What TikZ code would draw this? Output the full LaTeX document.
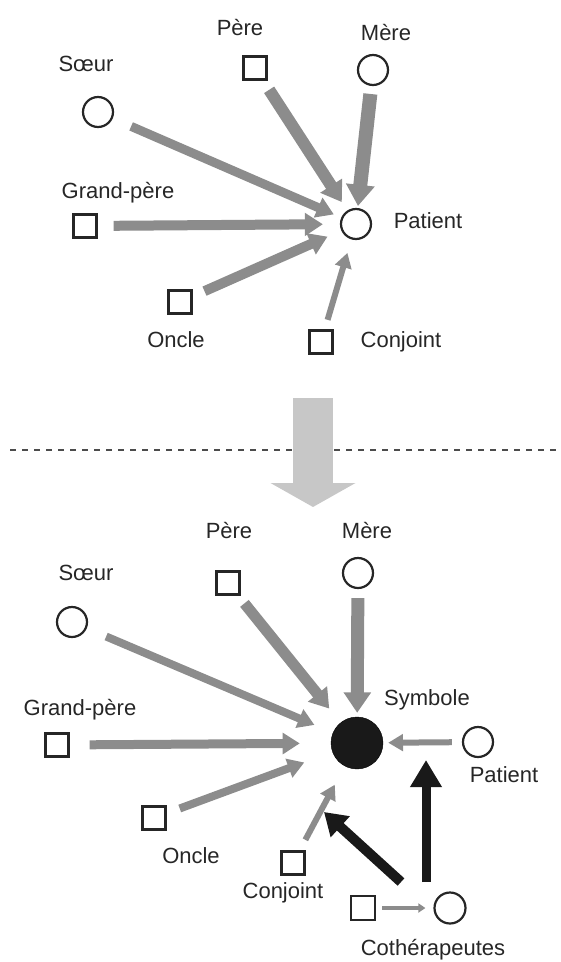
\documentclass[tikz,border=0pt]{standalone}
\usepackage{fontspec}
\setmainfont{Liberation Sans}
\usetikzlibrary{arrows.meta}

\begin{document}
\begin{tikzpicture}[x=1pt, y=-1pt,
        fem/.style={circle, draw=black!85, line width=2.2pt, minimum size=30pt, inner sep=0pt},
        mas/.style={rectangle, draw=black!85, line width=2.2pt, minimum size=23pt, inner sep=0pt},
        lbl/.style={text=black!85, font=\fontsize{22}{24}\selectfont, inner sep=0pt, text height=16pt, text depth=4.5pt},
        infl/.style={draw=black!45, -{Triangle[length=10pt 0.8, width=8pt 1.4]}},
        ther/.style={draw=black!90}]

        \useasboundingbox (0,0) rectangle (561,962);

        % avant
        \node[fem] (soeur) at (98,112) {};
        \node[mas] (pere) at (255,68) {};
        \node[fem] (mere) at (373,70) {};
        \node[mas] (grandpere) at (85,226) {};
        \node[fem] (patient) at (356,224) {};
        \node[mas] (oncle) at (180,302) {};
        \node[mas] (conjoint) at (321,342) {};

        \node[lbl] (lsoeur) at (86,66) {Sœur};
        \node[lbl] (lpere) at (240,30) {Père};
        \node[lbl] (lmere) at (386,35) {Mère};
        \node[lbl] (lgrandpere) at (118,193) {Grand-père};
        \node[lbl] (lpatient) at (428,223) {Patient};
        \node[lbl] (loncle) at (176,342) {Oncle};
        \node[lbl] (lconjoint) at (401,342) {Conjoint};

        \foreach \a/\w/\s/\e in {soeur/9/20/8, pere/12/11/10, mere/14/8/2, grandpere/10/16/17, oncle/10/13/15, conjoint/6/10/14} {
            \draw[infl, line width=\w pt, shorten <=\s pt, shorten >=\e pt] (\a) -- (patient);
        }

        % separation
        \draw[line width=2.5pt, black!70, dash pattern=on 6pt off 6pt] (10,450) -- (561,450);
        \coordinate (haut) at (313,398);
        \coordinate (bas) at (313,507);
        \draw[line width=40pt, draw=black!22, -{Triangle[length=24pt, width=84pt]}] (haut) -- (bas);

        % apres
        \node[fem] (soeurB) at (72,622) {};
        \node[mas] (pereB) at (228,583) {};
        \node[fem] (mereB) at (358,573) {};
        \node[mas] (grandpereB) at (57,745) {};
        \node[circle, fill=black!90, draw=black, minimum size=52pt, inner sep=0pt] (symbole) at (357,743) {};
        \node[fem] (patientB) at (478,742) {};
        \node[mas] (oncleB) at (154,818) {};
        \node[mas] (conjointB) at (293,863) {};
        \node[mas, minimum size=24pt] (cothM) at (363,908) {};
        \node[fem, minimum size=31pt] (cothF) at (450,908) {};

        \node[lbl] (lsoeurB) at (86,575) {Sœur};
        \node[lbl] (lpereB) at (229,533) {Père};
        \node[lbl] (lmereB) at (367,533) {Mère};
        \node[lbl] (lgrandpereB) at (80,710) {Grand-père};
        \node[lbl] (lsymbole) at (427,700) {Symbole};
        \node[lbl] (lpatientB) at (504,777) {Patient};
        \node[lbl] (loncleB) at (191,858) {Oncle};
        \node[lbl] (lconjointB) at (283,893) {Conjoint};
        \node[lbl] (lcoth) at (433,950) {Cothérapeutes};

        \foreach \a/\w/\s/\e in {soeurB/8/21/20, pereB/11/10/18, mereB/13/9/4, grandpereB/9/20/31, oncleB/8/14/30, conjointB/6/12/21} {
            \draw[infl, line width=\w pt, shorten <=\s pt, shorten >=\e pt] (\a) -- (symbole);
        }
        \draw[infl, line width=6pt, shorten <=10pt, shorten >=5pt] (patientB) -- (symbole);
        \draw[draw=black!45, line width=4pt, -{Triangle[length=7pt, width=9pt]}, shorten <=6pt, shorten >=8pt] (cothM) -- (cothF);

        % cotherapeutes
        \coordinate (cothA) at (401,882);
        \coordinate (cothB) at (426,882);
        \coordinate (visA) at (324,812);
        \coordinate (visB) at (426,760);
        \draw[ther, line width=10pt, -{Triangle[length=22pt, width=27pt]}] (cothA) -- (visA);
        \draw[ther, line width=9pt, -{Triangle[length=27pt, width=30pt]}] (cothB) -- (visB);

    \end{tikzpicture}
\end{document}
